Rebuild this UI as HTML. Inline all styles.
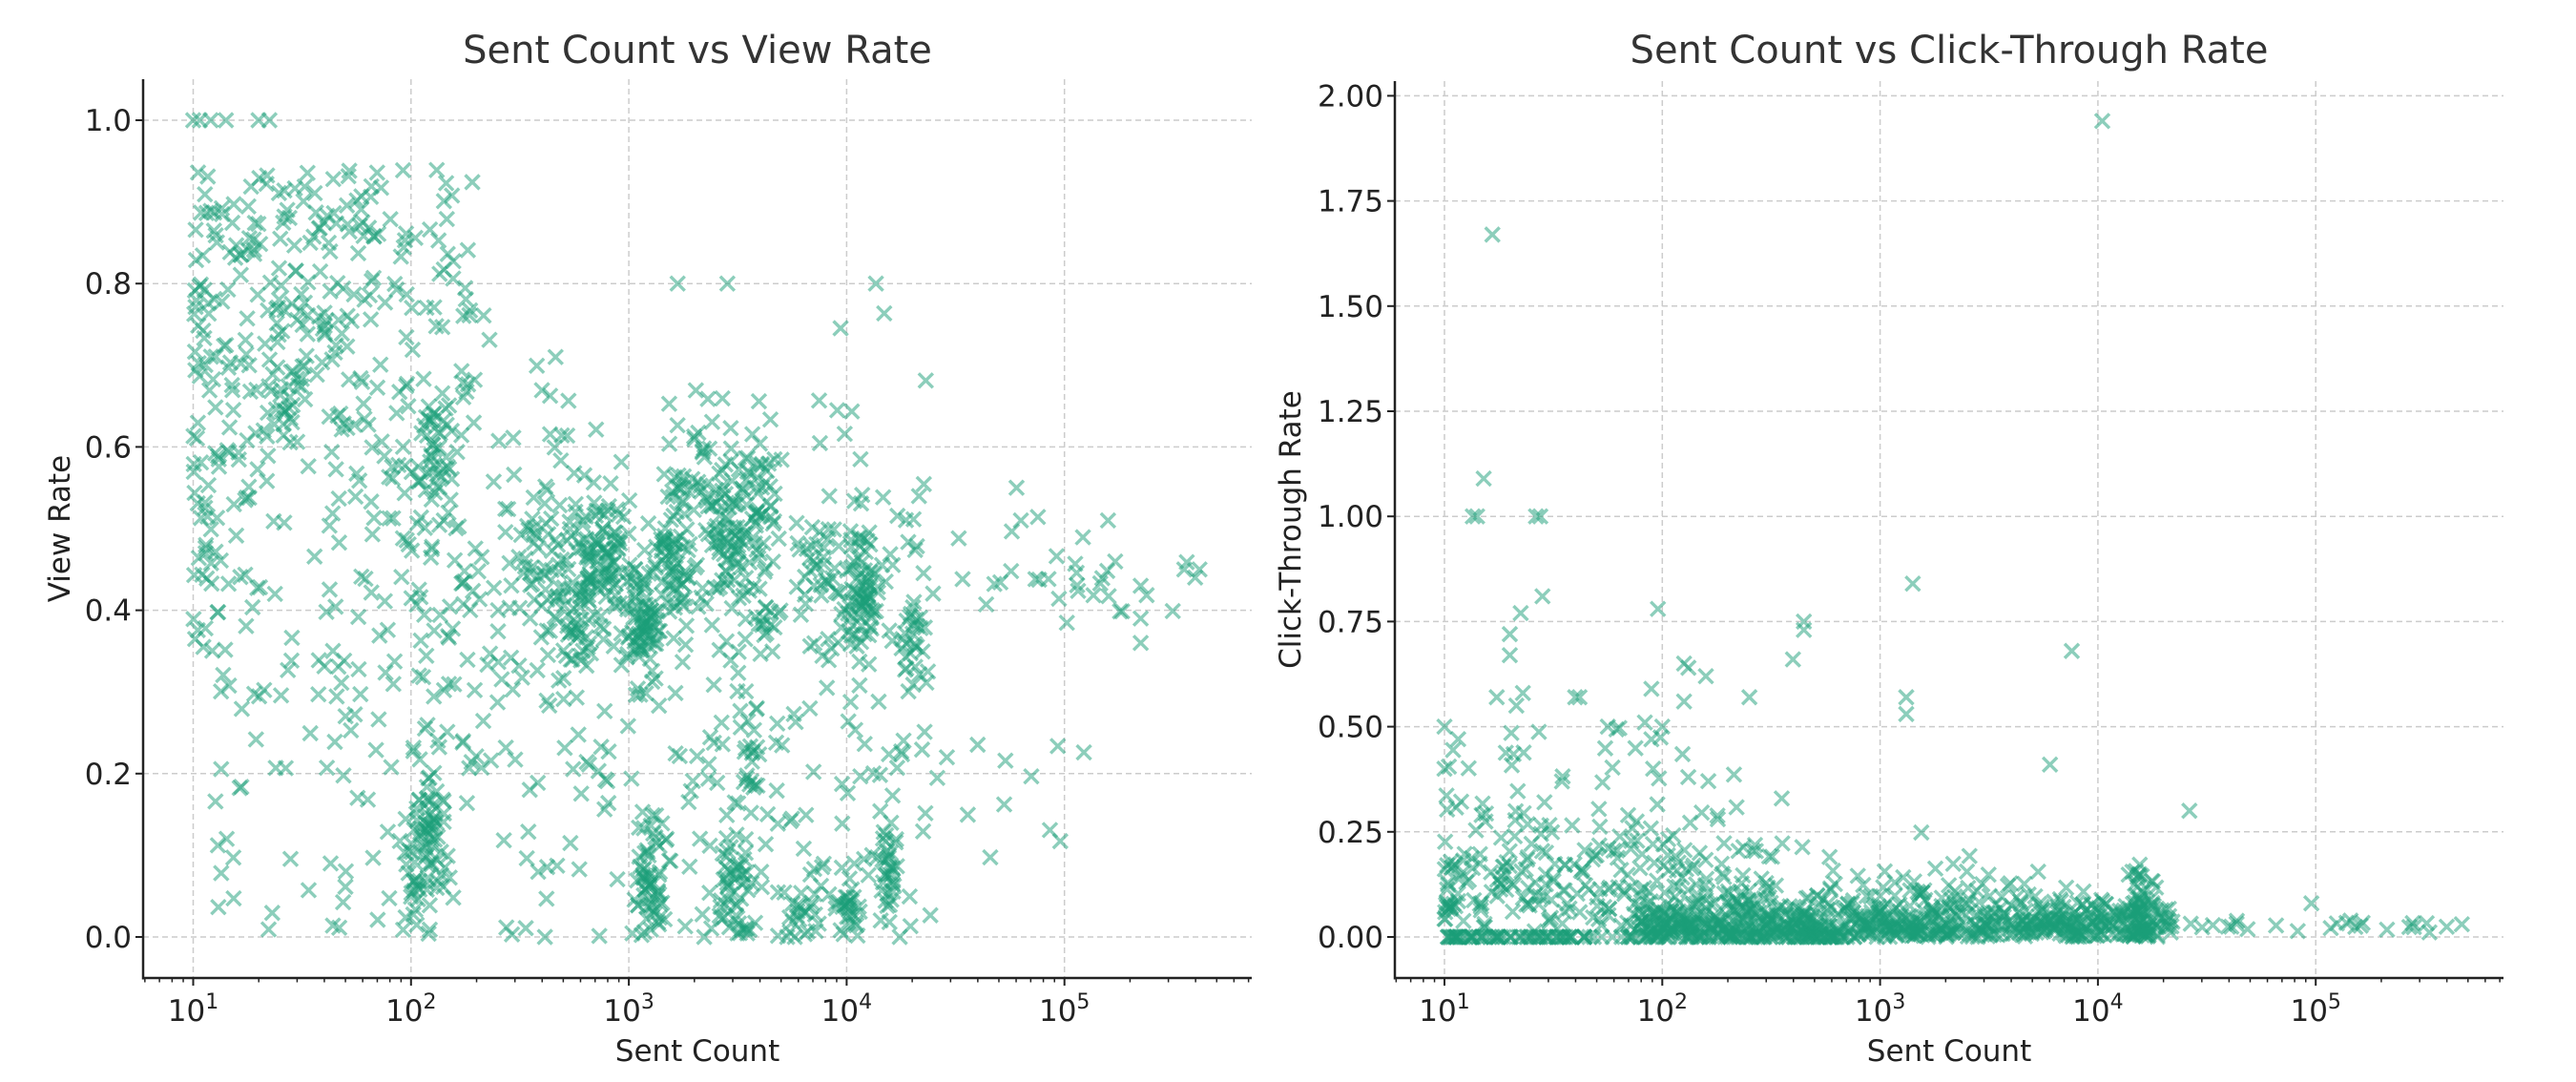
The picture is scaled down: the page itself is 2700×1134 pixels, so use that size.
<!DOCTYPE html>
<html><head><meta charset="utf-8">
<style>
html,body{margin:0;padding:0;background:#fff;}
svg{display:block;font-family:"DejaVu Sans","Liberation Sans",sans-serif;}
</style></head>
<body>
<svg id="s" width="2700" height="1134" xmlns="http://www.w3.org/2000/svg"></svg>
<script>
var NS="http://www.w3.org/2000/svg",S=document.getElementById('s');
function el(t,a,p){var e=document.createElementNS(NS,t);for(var k in a)e.setAttribute(k,a[k]);(p||S).appendChild(e);return e;}
var seed=12345;function rnd(){seed=(seed*1103515245+12345)%2147483648;return seed/2147483648;}
function gauss(){var u=rnd()||1e-9,v=rnd();return Math.sqrt(-2*Math.log(u))*Math.cos(6.2832*v);}
function panel(o){
 var X=function(l){return o.x10+(l-1)*228.3;},Y=function(v){return o.y0-(v-o.ymin)*o.ppu;};
 var g=el('g',{});
 for(var d=1;d<=5;d++)el('line',{x1:X(d),x2:X(d),y1:o.top,y2:o.bot,stroke:'#cccccc','stroke-width':1.5,'stroke-dasharray':'6,4'},g);
 o.yt.forEach(function(t){el('line',{x1:o.left,x2:o.right,y1:Y(t),y2:Y(t),stroke:'#cccccc','stroke-width':1.5,'stroke-dasharray':'6,4'},g);});
 var pg=el('g',{stroke:'#1a9e77','stroke-width':3.4,'stroke-opacity':0.5,fill:'none'});
 o.pts.forEach(function(p){var x=X(p[0]),y=Y(p[1]);el('path',{d:'M'+(x-7.5)+' '+(y-7.5)+'l15 15M'+(x+7.5)+' '+(y-7.5)+'l-15 15'},pg);});
 el('line',{x1:o.left,x2:o.left,y1:o.top,y2:o.bot+1.5,stroke:'#222','stroke-width':2.5});
 el('line',{x1:o.left-1,x2:o.right,y1:o.bot,y2:o.bot,stroke:'#222','stroke-width':2.5});
 for(var d=0;d<=5;d++)for(var m=1;m<10;m++){var l=d+Math.log10(m),x=X(l);if(x<o.left||x>o.right)continue;
  el('line',{x1:x,x2:x,y1:o.bot,y2:o.bot+(m==1?8:4.5),stroke:'#222','stroke-width':m==1?2:1.5});}
 for(var d=1;d<=5;d++){var t=el('text',{x:X(d),y:o.bot+45,'text-anchor':'middle','font-size':31,fill:'#222'});
  t.textContent='10';var s=el('tspan',{dy:-13,'font-size':22},t);s.textContent=d;}
 o.yt.forEach(function(v,i){el('line',{x1:o.left-8,x2:o.left,y1:Y(v),y2:Y(v),stroke:'#222','stroke-width':2});
  var t=el('text',{x:o.left-12,y:Y(v)+11,'text-anchor':'end','font-size':31,fill:'#222'});t.textContent=o.yl[i];});
 var t=el('text',{x:(o.left+o.right)/2,y:1112,'text-anchor':'middle','font-size':31,fill:'#222'});t.textContent='Sent Count';
 t=el('text',{x:0,y:0,'text-anchor':'middle','font-size':31,fill:'#222',transform:'translate('+o.ylx+','+((o.top+o.bot)/2)+') rotate(-90)'});t.textContent=o.ylab;
 t=el('text',{x:(o.left+o.right)/2,y:66,'text-anchor':'middle','font-size':40,fill:'#333'});t.textContent=o.title;
}
var L=[];
function clu(lx,sx,y,sy,n,lo,hi){for(var i=0;i<n;i++){var v=y+gauss()*sy;if(v<lo)v=lo+rnd()*0.02;if(v>hi)v=hi-rnd()*0.02;L.push([lx+gauss()*sx,v]);}}
for(var i=0;i<330;i++){var lx=1+Math.pow(rnd(),1.3)*1.3;L.push([lx,Math.min(0.96,0.28+Math.pow(rnd(),0.7)*0.66)]);}
for(var i=0;i<60;i++){L.push([1.1+rnd()*1.1,rnd()*0.35]);}
[[1,1],[1.03,1],[1.08,1],[1.15,1],[1.3,1],[1.35,1]].forEach(function(p){L.push(p)});
for(var i=0;i<30;i++)L.push([1+rnd()*0.12,0.35+rnd()*0.6]);
clu(1.5,0.12,0.75,0.06,50,0,1);
clu(2.08,0.03,0.13,0.04,50,0,1);clu(2.0,0.02,0.05,0.03,18,0,1);
clu(2.1,0.06,0.58,0.05,35,0,1);
clu(2.6,0.1,0.45,0.05,60,0,1);clu(2.75,0.05,0.38,0.04,35,0,1);
clu(2.88,0.05,0.47,0.04,80,0,1);clu(3.05,0.05,0.38,0.04,80,0,1);
clu(3.2,0.06,0.46,0.05,60,0,1);clu(3.3,0.08,0.55,0.05,40,0,1);
clu(3.45,0.05,0.48,0.05,70,0,1);clu(3.6,0.05,0.5,0.06,60,0,1);
clu(3.1,0.04,0.06,0.04,50,0,1);clu(3.5,0.05,0.05,0.04,50,0,1);
clu(3.55,0.03,0.22,0.05,25,0,1);clu(3.8,0.05,0.04,0.02,25,0,1);
clu(4.0,0.03,0.03,0.02,25,0,1);clu(4.18,0.03,0.08,0.03,35,0,1);
clu(3.9,0.07,0.44,0.04,40,0,1);clu(4.07,0.04,0.42,0.04,70,0,1);
clu(4.3,0.04,0.37,0.03,25,0,1);
for(var i=0;i<260;i++){var lx=2+rnd()*2.4;L.push([lx,Math.max(0,Math.min(0.8,0.45-(lx-2)*0.05+gauss()*0.18))]);}
for(var i=0;i<90;i++){var lx=2+rnd()*2.4;L.push([lx,rnd()*0.25]);}
for(var i=0;i<30;i++){var lx=4.4+rnd()*1.2;L.push([lx,0.43+gauss()*0.04]);}
for(var i=0;i<12;i++){L.push([4.4+rnd()*0.7,0.06+rnd()*0.18]);}
[[5.35,0.43],[5.35,0.39],[5.35,0.36],[5.55,0.45],[5.62,0.45],[5.6,0.44],[4.78,0.55],[4.8,0.51],[5.2,0.51]].forEach(function(p){L.push(p)});
var R=[];
for(var i=0;i<160;i++)R.push([1+rnd()*1.9,0]);
for(var i=0;i<650;i++){var lx=1.9+rnd()*2.45;R.push([lx,Math.abs(gauss())*0.045]);}
for(var i=0;i<260;i++){var lx=1+Math.pow(rnd(),1.5)*3.3;R.push([lx,Math.abs(gauss())*(0.16-(lx-1)*0.03)+0.01]);}
for(var i=0;i<100;i++){var lx=1+rnd()*1.5;R.push([lx,0.03+rnd()*0.18]);}
for(var i=0;i<45;i++){var lx=1+rnd()*1.5;R.push([lx,0.2+rnd()*0.3]);}
for(var i=0;i<25;i++){R.push([4.4+rnd()*1.3,0.01+rnd()*0.03]);}
for(var i=0;i<30;i++){R.push([4.18+gauss()*0.02,rnd()*0.18]);}
[[4.02,1.94],[1.22,1.67],[1.18,1.09],[1.13,1],[1.15,1],[1.42,1],[1.44,1],[1.45,0.81],[1.35,0.77],[1.3,0.72],[1.3,0.67],[1.98,0.78],[2.65,0.75],[2.65,0.73],[2.6,0.66],[3.15,0.84],[3.88,0.68],[3.78,0.41],[4.42,0.3],[2.1,0.65],[2.12,0.64],[2.2,0.62],[1.6,0.57],[1.62,0.57],[2.4,0.57],[3.12,0.57],[3.12,0.53],[2.1,0.56],[1.95,0.59],[1.24,0.57],[1.36,0.58],[1.33,0.55],[1.0,0.5],[1.75,0.5],[1.92,0.51],[1.95,0.47],[2.0,0.5],[1.0,0.4],[4.98,0.08]].forEach(function(p){R.push(p)});
panel({left:150,right:1312,top:83,bot:1025,x10:202.5,y0:982,ymin:0,ppu:856,yt:[0,0.2,0.4,0.6,0.8,1.0],yl:['0.0','0.2','0.4','0.6','0.8','1.0'],ylab:'View Rate',ylx:73,title:'Sent Count vs View Rate',pts:L});
panel({left:1462,right:2624,top:85,bot:1025,x10:1514,y0:982,ymin:0,ppu:440.8,yt:[0,0.25,0.5,0.75,1,1.25,1.5,1.75,2],yl:['0.00','0.25','0.50','0.75','1.00','1.25','1.50','1.75','2.00'],ylab:'Click-Through Rate',ylx:1363,title:'Sent Count vs Click-Through Rate',pts:R});
</script>
</body></html>
